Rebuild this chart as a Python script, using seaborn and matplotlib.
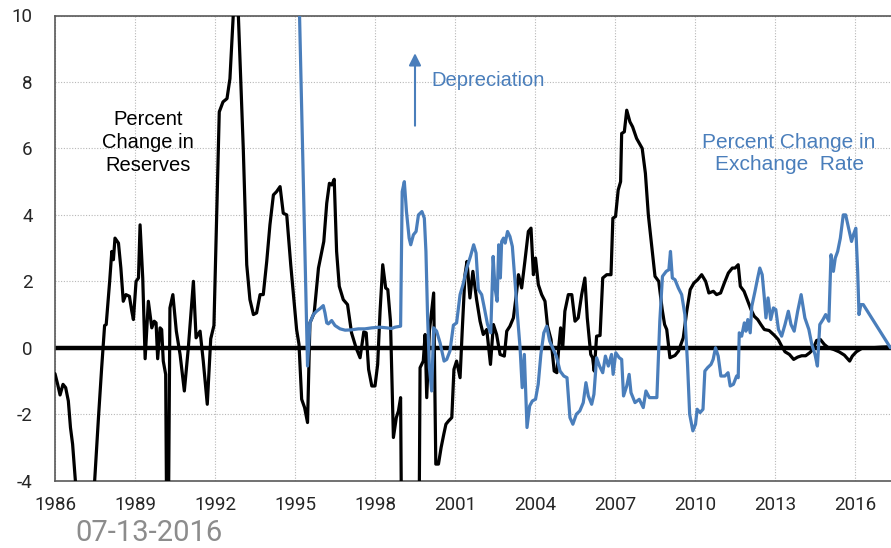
import matplotlib
matplotlib.use("Agg")
import pandas as pd
import matplotlib.pyplot as plt
import seaborn as sns

# percent change in reserves (black)
reserve_years = [
    1986.0, 1986.1, 1986.19, 1986.3, 1986.4, 1986.5, 1986.58, 1986.66, 1987.0, 1987.3,
    1987.63, 1987.75, 1987.86, 1987.92, 1988.05, 1988.13, 1988.19, 1988.25, 1988.38, 1988.47,
    1988.56, 1988.66, 1988.79, 1988.88, 1988.94, 1989.04, 1989.13, 1989.19, 1989.29, 1989.38,
    1989.5, 1989.63, 1989.72, 1989.79, 1989.85, 1989.94, 1990.0, 1990.06, 1990.15, 1990.22,
    1990.31, 1990.42, 1990.55, 1990.69, 1990.85, 1991.0, 1991.19, 1991.29, 1991.44, 1991.56,
    1991.71, 1991.84, 1991.96, 1992.16, 1992.3, 1992.45, 1992.56, 1992.63, 1992.75, 1992.83,
    1992.95, 1993.06, 1993.19, 1993.31, 1993.44, 1993.56, 1993.69, 1993.81, 1993.94, 1994.06,
    1994.19, 1994.31, 1994.44, 1994.56, 1994.69, 1994.84, 1994.94, 1995.06, 1995.15, 1995.25,
    1995.36, 1995.47, 1995.56, 1995.72, 1995.88, 1996.08, 1996.19, 1996.29, 1996.38, 1996.47,
    1996.56, 1996.66, 1996.81, 1996.97, 1997.12, 1997.29, 1997.44, 1997.58, 1997.67, 1997.76,
    1997.88, 1998.0, 1998.1, 1998.19, 1998.29, 1998.4, 1998.48, 1998.58, 1998.69, 1998.8,
    1998.88, 1998.96, 1999.08, 1999.58, 1999.69, 1999.81, 1999.88, 1999.94, 2000.04, 2000.2,
    2000.28, 2000.38, 2000.48, 2000.58, 2000.66, 2000.76, 2000.88, 2000.96, 2001.06, 2001.19,
    2001.27, 2001.375, 2001.45, 2001.56, 2001.67, 2001.81, 2001.94, 2002.06, 2002.19, 2002.33,
    2002.44, 2002.56, 2002.69, 2002.85, 2002.94, 2003.06, 2003.19, 2003.3, 2003.38, 2003.5,
    2003.62, 2003.75, 2003.85, 2003.94, 2004.02, 2004.125, 2004.25, 2004.375, 2004.47, 2004.6,
    2004.72, 2004.82, 2004.9, 2004.96, 2005.04, 2005.12, 2005.25, 2005.38, 2005.5, 2005.62,
    2005.75, 2005.87, 2005.96, 2006.09, 2006.16, 2006.22, 2006.31, 2006.44, 2006.54, 2006.69,
    2006.85, 2006.92, 2007.02, 2007.12, 2007.21, 2007.25, 2007.35, 2007.44, 2007.56, 2007.66,
    2007.81, 2008.02, 2008.14, 2008.25, 2008.38, 2008.5, 2008.64, 2008.77, 2008.86, 2008.94,
    2009.06, 2009.25, 2009.38, 2009.56, 2009.69, 2009.82, 2009.96, 2010.1, 2010.25, 2010.4,
    2010.52, 2010.69, 2010.81, 2010.96, 2011.1, 2011.25, 2011.4, 2011.5, 2011.62, 2011.7,
    2011.84, 2011.98, 2012.1, 2012.22, 2012.35, 2012.47, 2012.6, 2012.78, 2012.97, 2013.12,
    2013.25, 2013.375, 2013.54, 2013.7, 2013.85, 2014.0, 2014.15, 2014.3, 2014.42, 2014.56,
    2014.7, 2014.85, 2015.0, 2015.2, 2015.4, 2015.6, 2015.8, 2015.9, 2016.05, 2016.25,
    2016.6, 2017.0, 2017.3,
]
reserve_pct = [
    -0.78, -1.1, -1.42, -1.1, -1.2, -1.6, -2.4, -2.9, -6.5, -6.5,
    -2.1, -0.6, 0.67, 0.7, 2.0, 2.9, 2.65, 3.3, 3.15, 2.4,
    1.4, 1.6, 1.55, 1.1, 0.85, 2.0, 2.1, 3.7, 2.1, -0.33,
    1.4, 0.6, 0.8, 0.75, -0.33, 0.6, 0.55, -0.4, -0.8, -9.0,
    1.2, 1.6, 0.5, -0.2, -1.3, 0.0, 2.0, 0.3, 0.5, -0.4,
    -1.7, 0.27, 0.67, 7.1, 7.4, 7.5, 8.1, 9.2, 11.0, 11.0,
    8.4, 6.0, 2.5, 1.45, 1.0, 1.05, 1.6, 1.6, 2.6, 3.7,
    4.6, 4.7, 4.85, 4.05, 4.0, 2.5, 1.6, 0.55, 0.1, -1.55,
    -1.8, -2.25, 0.75, 1.05, 2.4, 3.2, 4.35, 4.95, 4.9, 5.07,
    2.9, 1.85, 1.45, 1.3, 0.45, 0.0, -0.3, 0.48, 0.45, -0.65,
    -1.15, -1.15, -0.5, 1.1, 2.5, 1.8, 1.75, 0.8, -2.7, -2.1,
    -1.9, -1.5, -15.0, -15.0, -0.6, -0.4, 0.4, -1.5, 0.5, 1.65,
    -3.5, -3.5, -3.0, -2.6, -2.3, -2.2, -2.1, -0.65, -0.4, -0.9,
    0.5, 2.2, 2.6, 1.5, 2.3, 1.45, 0.8, 0.4, 0.55, -0.5,
    0.7, 0.4, -0.2, -0.25, 0.5, 0.65, 0.9, 1.6, 2.2, 1.8,
    2.6, 3.5, 3.6, 2.2, 2.7, 1.9, 1.6, 1.4, 0.65, 0.25,
    -0.7, -0.75, 0.1, 0.6, 0.0, 1.1, 1.6, 1.6, 0.8, 0.9,
    1.6, 2.1, 0.9, -0.2, -0.3, -0.7, 0.35, 0.37, 2.1, 2.2,
    2.2, 3.9, 3.95, 4.75, 5.0, 6.45, 6.5, 7.15, 6.8, 6.65,
    6.3, 6.0, 5.25, 4.0, 3.05, 2.15, 2.0, 1.15, 0.7, 0.55,
    -0.3, -0.23, -0.1, 0.3, 1.1, 1.75, 1.95, 2.05, 2.2, 2.0,
    1.65, 1.7, 1.6, 1.65, 1.95, 2.25, 2.4, 2.4, 2.5, 1.85,
    1.7, 1.4, 1.15, 0.95, 0.85, 0.7, 0.55, 0.52, 0.38, 0.25,
    0.05, -0.12, -0.2, -0.35, -0.28, -0.24, -0.24, -0.15, -0.05, 0.22,
    0.25, 0.1, 0.0, -0.05, -0.12, -0.22, -0.4, -0.25, -0.12, -0.02,
    0.0, 0.02, 0.03,
]

# percent change in exchange rate (blue)
fx_years = [
    1995.0, 1995.47, 1995.56, 1995.69, 1995.81, 1995.94, 1996.06, 1996.125, 1996.19, 1996.25,
    1996.375, 1996.5, 1996.69, 1996.88, 1997.12, 1997.38, 1997.62, 1997.88, 1998.19, 1998.44,
    1998.62, 1998.75, 1998.96, 1999.02, 1999.1, 1999.18, 1999.28, 1999.34, 1999.44, 1999.54,
    1999.63, 1999.76, 1999.85, 1999.91, 1999.97, 2000.04, 2000.125, 2000.2, 2000.31, 2000.44,
    2000.59, 2000.69, 2000.81, 2000.94, 2001.06, 2001.19, 2001.3, 2001.44, 2001.58, 2001.7,
    2001.79, 2001.875, 2002.0, 2002.1, 2002.22, 2002.34, 2002.43, 2002.5, 2002.58, 2002.64,
    2002.7, 2002.75, 2002.82, 2002.88, 2002.97, 2003.06, 2003.15, 2003.25, 2003.34, 2003.44,
    2003.52, 2003.6, 2003.7, 2003.8, 2003.9, 2004.02, 2004.12, 2004.22, 2004.33, 2004.44,
    2004.55, 2004.66, 2004.8, 2004.94, 2005.08, 2005.2, 2005.31, 2005.42, 2005.55, 2005.68,
    2005.81, 2005.91, 2006.0, 2006.125, 2006.21, 2006.31, 2006.42, 2006.54, 2006.64, 2006.75,
    2006.87, 2006.93, 2007.03, 2007.16, 2007.25, 2007.32, 2007.44, 2007.53, 2007.6, 2007.75,
    2007.91, 2008.06, 2008.16, 2008.29, 2008.44, 2008.57, 2008.68, 2008.78, 2008.92, 2009.02,
    2009.08, 2009.15, 2009.25, 2009.375, 2009.5, 2009.62, 2009.72, 2009.8, 2009.92, 2010.02,
    2010.08, 2010.19, 2010.3, 2010.37, 2010.47, 2010.6, 2010.68, 2010.77, 2010.87, 2010.97,
    2011.12, 2011.24, 2011.32, 2011.44, 2011.56, 2011.62, 2011.66, 2011.75, 2011.85, 2011.91,
    2011.98, 2012.07, 2012.13, 2012.25, 2012.35, 2012.43, 2012.52, 2012.6, 2012.66, 2012.74,
    2012.84, 2012.94, 2013.03, 2013.13, 2013.25, 2013.375, 2013.5, 2013.6, 2013.72, 2013.85,
    2013.98, 2014.12, 2014.27, 2014.38, 2014.5, 2014.59, 2014.68, 2014.8, 2014.9, 2015.02,
    2015.1, 2015.19, 2015.26, 2015.35, 2015.45, 2015.56, 2015.65, 2015.76, 2015.87, 2015.94,
    2016.03, 2016.1, 2016.15, 2016.22, 2016.31, 2017.33,
]
fx_pct = [
    16.0, -0.55, 0.75, 1.0, 1.1, 1.18, 1.27, 1.05, 0.75, 0.72,
    0.82, 0.67, 0.57, 0.53, 0.54, 0.57, 0.57, 0.6, 0.62, 0.6,
    0.58, 0.62, 0.65, 4.7, 5.0, 4.1, 3.3, 3.1, 3.4, 3.5,
    4.0, 4.1, 3.9, 2.9, 1.0, -0.6, -1.3, 0.6, 0.5, 0.15,
    -0.4, -0.35, -0.1, 0.68, 0.75, 1.6, 1.9, 2.4, 2.75, 3.1,
    2.85, 1.75, 1.6, 1.2, 0.7, 0.45, 2.75, 1.8, 1.4, 3.1,
    2.1, 3.2, 3.3, 3.15, 3.5, 3.35, 3.05, 2.0, 1.0, 0.0,
    -1.2, -0.2, -2.4, -1.75, -1.6, -1.55, -1.1, -0.2, 0.45, 0.65,
    0.2, 0.0, -0.25, -0.7, -0.85, -0.9, -2.1, -2.3, -2.0, -1.9,
    -1.65, -1.05, -1.45, -1.7, -1.4, -0.3, -0.55, -0.75, -0.25, -0.55,
    -0.2, -0.8, -0.15, -0.3, -0.35, -1.45, -1.15, -0.8, -1.35, -1.65,
    -1.55, -1.8, -1.3, -1.5, -1.5, -1.5, 0.8, 2.15, 2.3, 2.35,
    2.9, 2.1, 2.05, 1.8, 1.6, 1.0, -0.5, -2.0, -2.5, -2.3,
    -1.85, -1.95, -1.85, -0.7, -0.6, -0.5, -0.35, 0.0, -0.25, -0.85,
    -0.85, -0.75, -1.15, -1.1, -0.85, -0.9, 0.45, 0.35, 0.75, 0.5,
    0.85, 0.45, 1.25, 1.7, 2.1, 2.4, 2.2, 1.5, 0.9, 1.5,
    0.85, 1.2, 1.15, 0.55, 0.35, 0.7, 1.1, 0.7, 0.5, 1.1,
    1.6, 0.9, 0.55, 0.1, -0.2, -0.55, 0.7, 0.85, 1.0, 0.8,
    2.8, 2.3, 2.7, 2.9, 3.3, 4.0, 4.0, 3.6, 3.2, 3.4,
    3.6, 2.3, 1.0, 1.3, 1.3, 0.0,
]

year_ticks = list(range(1986, 2017, 3))
value_ticks = list(range(-4, 11, 2))
date_stamp = "07-13-2016"

blue = "#4a7ebb"
tick_font = ["Roboto", "DejaVu Sans"]

reserves = pd.DataFrame({"year": reserve_years, "pct": reserve_pct})
fx = pd.DataFrame({"year": fx_years, "pct": fx_pct})

sns.set_style("white")
plt.rcParams["font.family"] = ["Liberation Sans", "DejaVu Sans"]

fig = plt.figure(figsize=(8.91, 5.48), dpi=100)
ax = fig.add_axes([55 / 891, 1 - 480.7 / 548, 836 / 891, 465.2 / 548])

ax.axhline(0, color="black", lw=3.2, zorder=2)
sns.lineplot(data=reserves, x="year", y="pct", color="black", lw=2.3,
             estimator=None, sort=False, ax=ax, zorder=3)
sns.lineplot(data=fx, x="year", y="pct", color=blue, lw=2.3,
             estimator=None, sort=False, ax=ax, zorder=4)

ax.set_xlim(1986, 2017.35)
ax.set_ylim(-4, 10)
ax.set_xticks(year_ticks)
ax.set_xticklabels([str(y) for y in year_ticks], family=tick_font, fontsize=13.5)
ax.set_yticks(value_ticks)
ax.set_yticklabels([str(v) for v in value_ticks], family=tick_font, fontsize=13.5)
ax.tick_params(axis="x", length=0, pad=11)
ax.tick_params(axis="y", length=0, pad=16)
ax.set_xlabel("")
ax.set_ylabel("")
ax.grid(True, color="#b8b8b8", linestyle=(0, (1, 1.5)), lw=0.8)
ax.set_axisbelow(True)

for side in ["top", "bottom", "left"]:
    ax.spines[side].set_color("#595959")
    ax.spines[side].set_linewidth(1.2)
ax.spines["right"].set_visible(False)

ax.text(1989.49, 6.18, "Percent\nChange in\nReserves", ha="center", va="center",
        fontsize=14.5, linespacing=1.25, color="black")
ax.text(2000.13, 8.05, "Depreciation", ha="left", va="center", fontsize=14.5, color=blue)
ax.annotate("", xy=(1999.5, 8.95), xytext=(1999.5, 6.6),
            arrowprops=dict(arrowstyle="-|>", color=blue, lw=1.5, mutation_scale=18))
ax.text(2013.53, 5.84, "Percent Change in\nExchange  Rate", ha="center", va="center",
        fontsize=15, linespacing=1.2, color=blue)

fig.text(75 / 891, 1 - 533 / 548, date_stamp, ha="left", va="center",
         fontsize=21, color="#8c8c8c", family=tick_font)

fig.savefig("out.png", dpi=100)
